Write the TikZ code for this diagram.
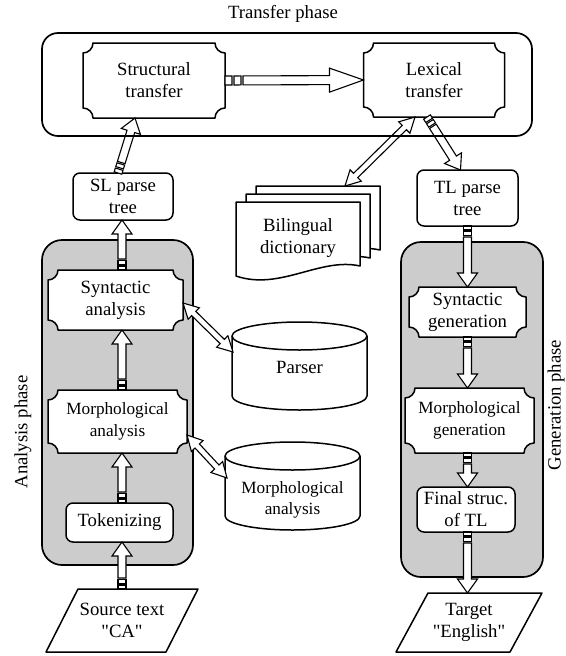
\documentclass[tikz,border=0pt]{standalone}
\usepackage{fontspec}
\setmainfont{Liberation Serif}
\newfontfamily\dfont{Liberation Serif}
\usetikzlibrary{calc}
\pgfdeclarelayer{bg}
\pgfdeclarelayer{mid}
\pgfsetlayers{bg,mid,main}
\tikzset{
  txt/.style={font=\dfont\fontsize{18.7}{22}\selectfont, align=center, inner sep=0pt, outer sep=0pt},
  smalltxt/.style={font=\dfont\fontsize{17.2}{21.5}\selectfont, align=center, inner sep=0pt, outer sep=0pt},
  boxline/.style={line width=1.5pt, draw=black, fill=white, line join=round},
  rbox/.style={txt, boxline, rounded corners=7pt},
  phasebox/.style={draw=black, line width=1.7pt, fill=black!20, rounded corners=20pt, inner sep=0pt, outer sep=0pt},
  arrowline/.style={line width=1.1pt, draw=black, fill=white, line join=miter},
}
\def\sw{4pt}\def\hw{10pt}\def\hl{14pt}
\def\tqa{4pt}\def\tqb{5.5pt}\def\tqc{9.5pt}\def\tqd{11pt}
% hollow arrow with two small tail squares
\newcommand\harrow[2]{%
  \coordinate (hA) at #1;
  \coordinate (hB) at #2;
  \coordinate (hT) at ($(hA)!\tqa!(hB)$);
  \coordinate (hU) at ($(hA)!\tqb!(hB)$);
  \coordinate (hV) at ($(hA)!\tqc!(hB)$);
  \coordinate (hS) at ($(hA)!\tqd!(hB)$);
  \coordinate (hH) at ($(hB)!\hl!(hA)$);
  \draw[arrowline] ($(hA)!\sw!90:(hB)$) -- ($(hA)!\sw!-90:(hB)$) -- ($(hT)!\sw!-90:(hB)$) -- ($(hT)!\sw!90:(hB)$) -- cycle;
  \draw[arrowline] ($(hU)!\sw!90:(hB)$) -- ($(hU)!\sw!-90:(hB)$) -- ($(hV)!\sw!-90:(hB)$) -- ($(hV)!\sw!90:(hB)$) -- cycle;
  \draw[arrowline] ($(hS)!\sw!90:(hB)$) -- ($(hH)!\sw!90:(hB)$) -- ($(hH)!\hw!90:(hB)$) -- (hB)
     -- ($(hH)!\hw!-90:(hB)$) -- ($(hH)!\sw!-90:(hB)$) -- ($(hS)!\sw!-90:(hB)$) -- cycle;
}
% hollow double-headed arrow
\newcommand\dharrow[2]{%
  \coordinate (hA) at #1;
  \coordinate (hB) at #2;
  \coordinate (hH) at ($(hB)!\hl!(hA)$);
  \coordinate (hG) at ($(hA)!\hl!(hB)$);
  \draw[arrowline] (hA) -- ($(hG)!\hw!90:(hB)$) -- ($(hG)!\sw!90:(hB)$) -- ($(hH)!\sw!90:(hB)$)
     -- ($(hH)!\hw!90:(hB)$) -- (hB) -- ($(hH)!\hw!-90:(hB)$) -- ($(hH)!\sw!-90:(hB)$)
     -- ($(hG)!\sw!-90:(hB)$) -- ($(hG)!\hw!-90:(hB)$) -- cycle;
}
% rectangle with concave corners around a node
\newcommand\plaque[1]{%
  \begin{pgfonlayer}{mid}
  \draw[boxline] ($(#1.north west)+(10,0)$) -- ($(#1.north east)+(-10,0)$)
    .. controls +(0,5.5) and +(-5.5,0) .. ($(#1.north east)+(0,10)$)
    -- ($(#1.south east)+(0,-10)$)
    .. controls +(-5.5,0) and +(0,-5.5) .. ($(#1.south east)+(-10,0)$)
    -- ($(#1.south west)+(10,0)$)
    .. controls +(0,-5.5) and +(5.5,0) .. ($(#1.south west)+(0,-10)$)
    -- ($(#1.north west)+(0,10)$)
    .. controls +(5.5,0) and +(0,5.5) .. ($(#1.north west)+(10,0)$) -- cycle;
  \end{pgfonlayer}}
% cylinder around a node: name, half width, top distance, bottom distance
\newcommand\cylout[4]{%
  \begin{pgfonlayer}{mid}
  \draw[boxline] ($(#1.center)+(-#2,-#3+14)$) -- ($(#1.center)+(-#2,#4-14)$)
    arc[start angle=180, end angle=360, x radius=#2pt, y radius=14pt]
    -- ($(#1.center)+(#2,-#3+14)$)
    arc[start angle=0, end angle=180, x radius=#2pt, y radius=14pt] -- cycle;
  \draw[boxline, fill=none] ($(#1.center)+(-#2,-#3+14)$)
    arc[start angle=180, end angle=360, x radius=#2pt, y radius=14pt];
  \end{pgfonlayer}}
% parallelogram around a node
\newcommand\paraout[1]{%
  \begin{pgfonlayer}{mid}
  \draw[boxline] ($(#1.north west)+(16,0)$) -- ($(#1.north east)+(16,0)$)
    -- ($(#1.south east)+(-16,0)$) -- ($(#1.south west)+(-16,0)$) -- cycle;
  \end{pgfonlayer}}
% one sheet of the document stack
\newcommand\docsheet[3]{%
  \draw[boxline] ($(#1.north west)+(#2,#3)$) -- ($(#1.north east)+(#2,#3)$)
    -- ($(#1.north east)+(#2,#3+64)$)
    .. controls +(-40,-9) and +(44,15) .. ($(#1.north west)+(#2,#3+74)$) -- cycle;}
\begin{document}
\begin{tikzpicture}[x=1pt,y=-1pt]
\useasboundingbox (0,0) rectangle (565,656);

% phase containers
\begin{pgfonlayer}{bg}
\node[phasebox, minimum width=151pt, minimum height=325pt] (anbox) at (117.5,402.5) {};
\node[phasebox, minimum width=142pt, minimum height=335pt] (genbox) at (472,409.5) {};
\end{pgfonlayer}

% labels
\node[txt] (ttitle) at (283,14) {Transfer phase};
\node[txt, rotate=90] (alabel) at (23,432) {Analysis phase};
\node[txt, rotate=90] (glabel) at (556,405) {Generation phase};

% transfer phase
\node[txt, minimum width=142pt, minimum height=75pt] (structural) at (154,80.5) {Structural\\transfer};
\plaque{structural}
\node[txt, minimum width=141pt, minimum height=74pt] (lexical) at (434,80) {Lexical\\transfer};
\plaque{lexical}

% analysis phase
\node[rbox, minimum width=100pt, minimum height=47pt] (sltree) at (123,196.5) {SL parse\\tree};
\node[txt, minimum width=135pt, minimum height=60pt] (syna) at (115.5,300) {Syntactic\\analysis};
\plaque{syna}
\node[smalltxt, minimum width=139pt, minimum height=63pt] (morpha) at (117.5,421.5) {Morphological\\analysis};
\plaque{morpha}
\node[rbox, minimum width=107pt, minimum height=39pt] (tok) at (119.5,522.5) {Tokenizing};
\node[txt, minimum width=120pt, minimum height=63pt] (src) at (122,620.5) {Source text\\"CA"};
\paraout{src}

% resources
\node[txt, minimum width=135pt, minimum height=40pt] (parser) at (299.5,367) {Parser};
\cylout{parser}{67.5}{45}{43}
\node[smalltxt, minimum width=135pt, minimum height=40pt] (morphdb) at (292.5,500) {Morphological\\analysis};
\cylout{morphdb}{67.5}{58}{30}
\node[txt, minimum width=124pt, minimum height=72pt] (dict) at (298,238) {Bilingual\\dictionary};
\begin{pgfonlayer}{mid}
\docsheet{dict}{20}{-16}
\docsheet{dict}{10}{-8}
\docsheet{dict}{0}{0}
\end{pgfonlayer}

% generation phase
\node[rbox, minimum width=101pt, minimum height=56pt] (tltree) at (467.5,198) {TL parse\\tree};
\node[txt, minimum width=117pt, minimum height=50pt] (syngen) at (467.5,312) {Syntactic\\generation};
\plaque{syngen}
\node[smalltxt, minimum width=129pt, minimum height=65pt] (morphgen) at (469.5,420.5) {Morphological\\generation};
\plaque{morphgen}
\node[rbox, minimum width=98pt, minimum height=45pt] (final) at (466,509.5) {Final struc.\\of TL};
\node[txt, minimum width=114pt, minimum height=59pt] (target) at (469,622.5) {Target\\"English"};
\paraout{target}

% connectors
{\def\sw{4.5pt}\def\hw{12pt}\def\hl{34pt}%
 \def\tqa{7pt}\def\tqb{9pt}\def\tqc{16pt}\def\tqd{18pt}%
 \harrow{(structural.east)}{(lexical.west)}}
\harrow{($(sltree.north)+(-5,0)$)}{($(structural.south)+(-19,0)$)}
\harrow{($(lexical.south)+(-7,0)$)}{($(tltree.north)+(-7,0)$)}

\harrow{(src.north)}{(src.north |- tok.south)}
\harrow{(src.north |- tok.north)}{(src.north |- morpha.south)}
\harrow{(src.north |- morpha.north)}{(src.north |- syna.south)}
\harrow{(src.north |- syna.north)}{(src.north |- sltree.south)}

\harrow{(tltree.south)}{(tltree.south |- syngen.north)}
\harrow{(tltree.south |- syngen.south)}{(tltree.south |- morphgen.north)}
\harrow{(tltree.south |- morphgen.south)}{(tltree.south |- final.north)}
\harrow{(tltree.south |- final.south)}{(tltree.south |- target.north)}

{\def\sw{3pt}\def\hw{8pt}\def\hl{15pt}%
 \dharrow{($(lexical.south)+(-19,0)$)}{($(dict.north)+(47,-16)$)}
 \dharrow{($(syna.east)+(0,3)$)}{($(parser.west)+(1,-15)$)}
 \dharrow{($(morpha.east)+(0,13.5)$)}{($(morphdb.west)+(2,-22)$)}}

% transfer container
\node[draw=black, line width=1.7pt, rounded corners=16pt, minimum width=490pt, minimum height=103pt, inner sep=0pt] (transbox) at (287,84.5) {};
\end{tikzpicture}
\end{document}
